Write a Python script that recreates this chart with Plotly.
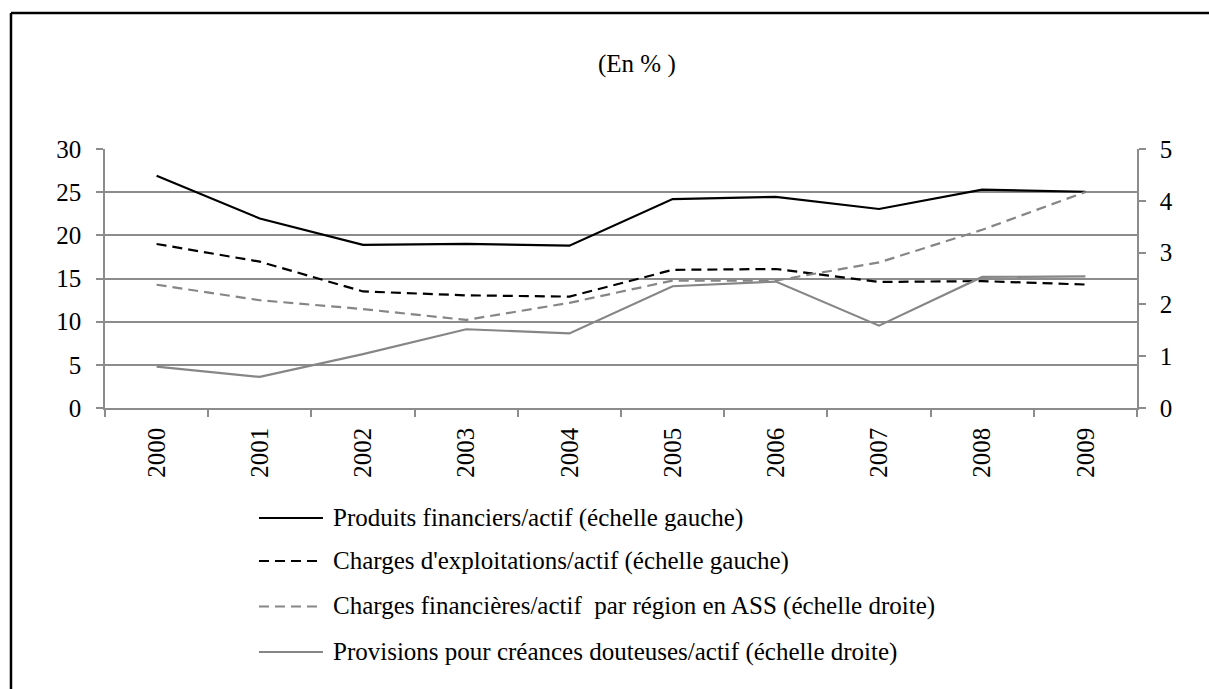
import plotly.graph_objects as go

# Years and ratios (%)
years = ["2000", "2001", "2002", "2003", "2004", "2005", "2006", "2007", "2008", "2009"]
produits_financiers = [26.9, 21.95, 18.9, 19.0, 18.8, 24.2, 24.45, 23.05, 25.3, 25.05]
charges_exploitation = [19.0, 16.95, 13.5, 13.05, 12.9, 16.0, 16.1, 14.6, 14.7, 14.3]
charges_financieres = [2.38, 2.08, 1.91, 1.70, 2.03, 2.46, 2.46, 2.81, 3.44, 4.17]
provisions_creances = [0.80, 0.60, 1.04, 1.52, 1.44, 2.35, 2.44, 1.59, 2.53, 2.54]

legend_labels = [
    "Produits financiers/actif (échelle gauche)",
    "Charges d'exploitations/actif (échelle gauche)",
    "Charges financières/actif  par région en ASS (échelle droite)",
    "Provisions pour créances douteuses/actif (échelle droite)",
]

FONT = "Liberation Serif, Times New Roman, serif"
FS = 25
BLACK = "#000000"
GREY = "#868686"
AXIS_GREY = "#8c8c8c"

series = [
    (produits_financiers, "y", dict(color=BLACK, width=2.2, dash="solid")),
    (charges_exploitation, "y", dict(color=BLACK, width=2.2, dash="10px,6px")),
    (charges_financieres, "y2", dict(color=GREY, width=2.2, dash="10px,6px")),
    (provisions_creances, "y2", dict(color=GREY, width=2.2, dash="solid")),
]

fig = go.Figure()
for (vals, yax, line), name in zip(series, legend_labels):
    fig.add_trace(go.Scatter(x=years, y=vals, name=name, mode="lines",
                             line=line, yaxis=yax, showlegend=False,
                             hoverinfo="x+y"))

tickfont = dict(family=FONT, size=FS, color=BLACK)
fig.update_layout(
    width=1209, height=689,
    margin=dict(l=105, r=72, t=149, b=281, pad=0),
    paper_bgcolor="white", plot_bgcolor="white",
    font=dict(family=FONT, size=FS, color=BLACK),
    xaxis=dict(
        type="category", range=[-0.5, 9.5], tickangle=-90,
        showline=True, linecolor=AXIS_GREY, linewidth=1.5,
        ticks="outside", tickson="boundaries", ticklen=7,
        tickcolor=AXIS_GREY, tickwidth=1.5, showgrid=False,
        tickfont=tickfont, ticklabelstandoff=8,
    ),
    yaxis=dict(
        range=[0, 30], dtick=5, showgrid=True, gridcolor=AXIS_GREY,
        gridwidth=1.5, zeroline=False, showline=True, linecolor=AXIS_GREY,
        linewidth=1.5, ticks="outside", ticklen=7, tickcolor=AXIS_GREY,
        tickwidth=1.5, tickfont=tickfont, ticklabelstandoff=10,
    ),
    yaxis2=dict(
        range=[0, 5], dtick=1, overlaying="y", side="right",
        showgrid=False, zeroline=False, showline=True, linecolor=AXIS_GREY,
        linewidth=1.5, ticks="outside", ticklen=7, tickcolor=AXIS_GREY,
        tickwidth=1.5, tickfont=tickfont, ticklabelstandoff=9,
    ),
    showlegend=False,
)

# Title
fig.add_annotation(text="(En % )", xref="paper", yref="paper", x=0.5155, y=1.328,
                   showarrow=False, xanchor="center", yanchor="middle",
                   font=dict(family=FONT, size=FS, color=BLACK))

# Frame: top and left edges
fig.add_shape(type="line", xref="paper", yref="paper", x0=-0.0911, x1=1.12,
              y0=1.525, y1=1.525, line=dict(color=BLACK, width=2.5))
fig.add_shape(type="line", xref="paper", yref="paper", x0=-0.0911, x1=-0.0911,
              y0=1.525, y1=-1.2, line=dict(color=BLACK, width=2.5))

# Legend below the axis
legend_rows = [-0.4247, -0.5907, -0.7664, -0.9421]
for (vals, yax, line), name, yr in zip(series, legend_labels, legend_rows):
    fig.add_shape(type="line", xref="paper", yref="paper", x0=0.1492, x1=0.2112,
                  y0=yr, y1=yr, line=line)
    fig.add_annotation(text=name, xref="paper", yref="paper", x=0.219, y=yr,
                       showarrow=False, xanchor="left", yanchor="middle",
                       font=dict(family=FONT, size=FS, color=BLACK))

fig.write_html("out.html")
